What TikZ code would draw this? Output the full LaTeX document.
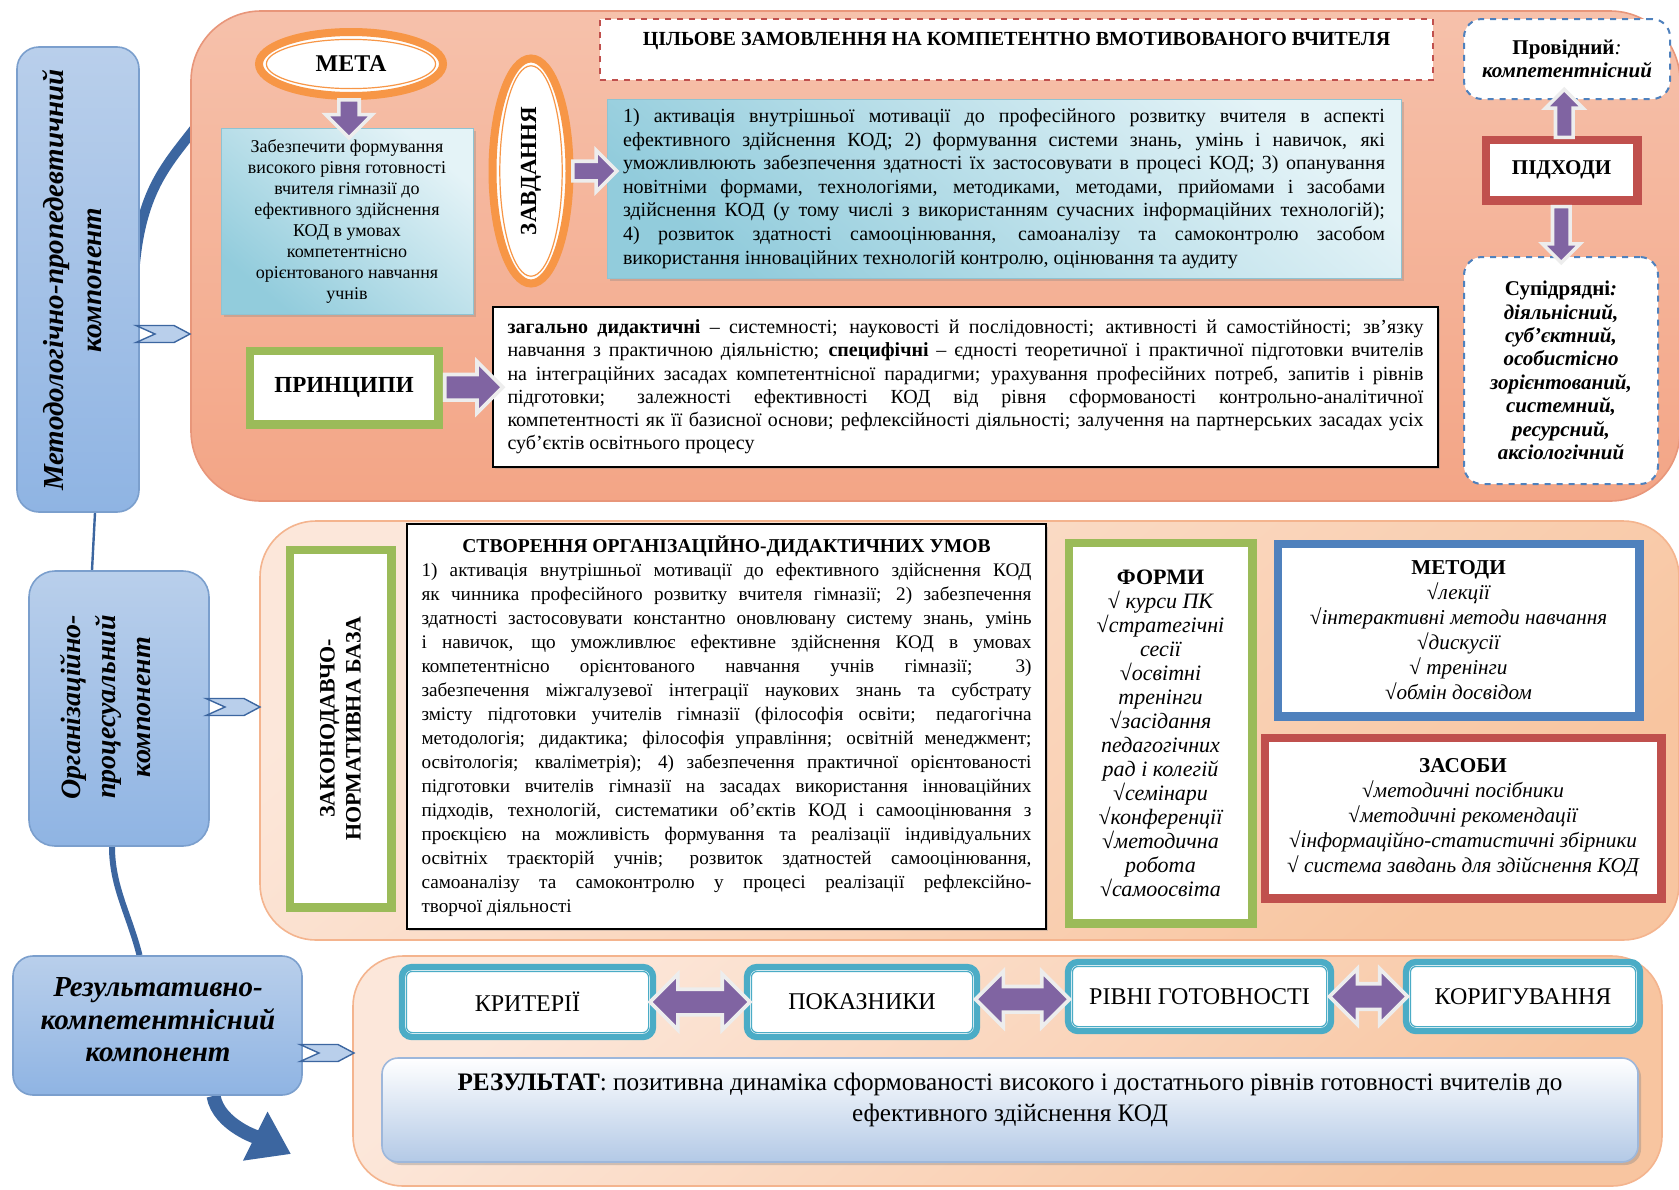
\documentclass[tikz,border=0pt]{standalone}
\usepackage{fontspec}
\setmainfont{Liberation Serif}
\usepackage{tikz}
\usetikzlibrary{positioning,calc,shapes.geometric,shapes.arrows,shadows,arrows.meta,backgrounds}

\definecolor{compbluetop}{HTML}{B9CFEB}
\definecolor{compblue}{HTML}{8FB4E3}
\definecolor{compedge}{HTML}{7B9FCD}
\definecolor{curveblue}{HTML}{3C66A0}
\definecolor{salmontop}{HTML}{F6C1AB}
\definecolor{salmon}{HTML}{F3A586}
\definecolor{salmonedge}{HTML}{E8967A}
\definecolor{peachtop}{HTML}{FCE7DA}
\definecolor{peach}{HTML}{F8C5A0}
\definecolor{peachedge}{HTML}{F4B48E}
\definecolor{teal1}{HTML}{92CCDC}
\definecolor{teal2}{HTML}{E4F3F7}
\definecolor{tealedge}{HTML}{8FC3D2}
\definecolor{arrowviolet}{HTML}{8064A2}
\definecolor{ogreen}{HTML}{9BBB59}
\definecolor{oblue}{HTML}{4F81BD}
\definecolor{ored}{HTML}{C0504D}
\definecolor{oorange}{HTML}{F79646}
\definecolor{oteal}{HTML}{4BACC6}
\definecolor{resblue}{HTML}{B3C9E6}
\definecolor{resedge}{HTML}{9DB7DB}

\tolerance=3000
\emergencystretch=8pt
\newcommand\setfs[2]{\fontsize{#1}{#2}\selectfont}
\newcommand\inframe[3][0pt]{\draw[#3, line width=0.6pt, rounded corners=#1] ([shift={(3.8pt,-3.8pt)}]#2.north west) rectangle ([shift={(-3.8pt,3.8pt)}]#2.south east);}

\begin{document}
\begin{tikzpicture}[x=0.5pt, y=-0.5pt,
  comp/.style={rectangle, rounded corners=11pt, draw=compedge, line width=0.8pt, top color=compbluetop, bottom color=compblue, inner sep=0pt},
  comptext/.style={rotate=90, align=center, font=\setfs{14.5}{19}\bfseries\itshape},
  panel/.style={rectangle, inner sep=0pt, line width=0.8pt},
  chev/.style={draw=curveblue, line width=0.7pt, fill=compbluetop, line join=miter},
  link/.style={draw=curveblue},
  varrow/.style 2 args={single arrow, fill=arrowviolet, draw=black!7, line width=1.8pt, inner sep=#1, single arrow head extend=#2},
  harrow/.style={double arrow, fill=arrowviolet, draw=black!7, line width=1.8pt, inner sep=5.5pt, double arrow head extend=7.5pt},
  dblbox/.style={rectangle, draw=#1, line width=3.5pt, fill=white, inner sep=0pt, drop shadow={opacity=0.3, shadow xshift=1.2pt, shadow yshift=-1.2pt}},
  ringoval/.style={ellipse, draw=oorange, line width=4pt, fill=white, inner sep=0pt},
  dashbox/.style={rectangle, rounded corners=9pt, draw=oblue, dashed, line width=1pt, fill=white, inner sep=0pt, align=center},
  goalbox/.style={rectangle, draw=tealedge, line width=0.5pt, top color=teal2, bottom color=teal1, shading angle=-40, inner sep=0pt, drop shadow={opacity=0.3, shadow xshift=1.5pt, shadow yshift=-1.5pt}},
  stagebox/.style={rectangle, rounded corners=5pt, draw=oteal, line width=3.2pt, fill=white, inner sep=0pt, minimum height=35pt, font=\setfs{12}{14}},
  textbox/.style={rectangle, draw=black, line width=0.8pt, fill=white, inner sep=6pt, align=justify, drop shadow={opacity=0.3, shadow xshift=1.2pt, shadow yshift=-1.2pt}}
]
\useasboundingbox (0,0) rectangle (1679,1189);

% components
\node[comp, minimum width=61pt, minimum height=232.5pt] (b1) at (78,279.5) {};
\node[comptext] (b1t) at (72,280) {Методологічно-пропедевтичний\\компонент};
\node[comp, rounded corners=13pt, minimum width=90pt, minimum height=137.5pt] (b2) at (119,708.5) {};
\node[comptext, font=\setfs{14}{17.5}\bfseries\itshape] (b2t) at (106,707) {Організаційно-\\процесуальний\\компонент};
\node[comp, rounded corners=10pt, minimum width=144.5pt, minimum height=69.5pt] (b3) at (157.5,1025.5) {};
\node[align=center, font=\setfs{14.5}{16.3}\bfseries\itshape] (b3t) at (158,1020) {Результативно-\\компетентнісний\\компонент};

% panels
\node[panel, rounded corners=35pt, draw=salmonedge, top color=salmontop, bottom color=salmon, minimum width=744.5pt, minimum height=245pt] (p1) at (935.5,256) {};
\node[panel, rounded corners=28pt, draw=peachedge, top color=peachtop, bottom color=peach, shading angle=40, minimum width=709.5pt, minimum height=209.5pt] (p2) at (969.5,730.5) {};
\node[panel, rounded corners=25pt, draw=peachedge, top color=peachtop, bottom color=peach, shading angle=40, minimum width=654.5pt, minimum height=115pt] (p3) at (1007.5,1071) {};

% first panel
\node[ringoval, minimum width=92pt, minimum height=32pt, font=\setfs{12}{14}\bfseries] (meta) at (351,64) {МЕТА};
\draw[oorange, line width=0.6pt] (meta.center) ellipse [x radius=42.3pt, y radius=12.3pt];
\node[goalbox, minimum width=126pt, minimum height=93pt, align=center, font=\setfs{9}{10.5}] (goal) at (347,221) {Забезпечити формування\\високого рівня готовності\\вчителя гімназії до\\ефективного здійснення\\КОД в умовах\\компетентнісно\\орієнтованого навчання\\учнів};
\node[ringoval, minimum width=38.5pt, minimum height=112.5pt] (zav) at (531,171) {};
\draw[oorange, line width=0.6pt] (zav.center) ellipse [x radius=15.6pt, y radius=52.6pt];
\node[rotate=90, font=\setfs{11.5}{13}\bfseries] (zavt) at (zav) {ЗАВДАННЯ};
\node[dashbox, sharp corners, draw=ored, minimum width=416.5pt, minimum height=30.5pt] (order) at (1016.5,49.5) {};
\node[anchor=north, inner sep=0pt, font=\setfs{10}{12}\bfseries] (ordert) at ([yshift=-7pt]order.north) {ЦІЛЬОВЕ ЗАМОВЛЕННЯ НА КОМПЕТЕНТНО ВМОТИВОВАНОГО ВЧИТЕЛЯ};
\node[goalbox, minimum width=397pt, minimum height=89.5pt, text width=381pt, align=justify, font=\setfs{10}{11.8}] (tasks) at (1004,188.5) {1) активація внутрішньої мотивації до професійного розвитку вчителя в аспекті\linebreak ефективного здійснення КОД; 2) формування системи знань, умінь і навичок, які\linebreak уможливлюють забезпечення здатності їх застосовувати в процесі КОД; 3) опанування\linebreak новітніми формами, технологіями, методиками, методами, прийомами і засобами\linebreak здійснення КОД (у тому числі з використанням сучасних інформаційних технологій);\linebreak 4) розвиток здатності самооцінювання, самоаналізу та самоконтролю засобом\linebreak використання інноваційних технологій контролю, оцінювання та аудиту};
\node[dashbox, minimum width=103pt, minimum height=40pt, font=\setfs{10.5}{11.3}] (lead) at (1567,59) {\textbf{Провідний}\textit{:}\\\textbf{\textit{компетентнісний}}};
\node[dblbox=ored, minimum width=76.5pt, minimum height=31pt, font=\setfs{10.5}{12}\bfseries] (appr) at (1561.5,170) {ПІДХОДИ};
\inframe{appr}{ored}
\node[dashbox, minimum width=97pt, minimum height=113.5pt, font=\setfs{10.5}{11.7}\bfseries] (sub) at (1561,370.5) {Супідрядні\textit{:}\\\textit{діяльнісний,}\\\textit{суб’єктний,}\\\textit{особистісно}\\\textit{зорієнтований,}\\\textit{системний,}\\\textit{ресурсний,}\\\textit{аксіологічний}};
\node[dblbox=ogreen, minimum width=95pt, minimum height=37.5pt, font=\setfs{11.5}{13}\bfseries] (prl) at (344,387.5) {ПРИНЦИПИ};
\inframe{prl}{ogreen}
\node[textbox, minimum width=472.5pt, minimum height=80pt, text width=458pt, font=\setfs{10}{11.6}] (prt) at (965.5,387) {\textbf{загально дидактичні} – системності; науковості й послідовності; активності й самостійності; зв’язку\linebreak навчання з практичною діяльністю; \textbf{специфічні} – єдності теоретичної і практичної підготовки вчителів\linebreak на інтеграційних засадах компетентнісної парадигми; урахування професійних потреб, запитів і рівнів\linebreak підготовки; залежності ефективності КОД від рівня сформованості контрольно-аналітичної\linebreak компетентності як її базисної основи; рефлексійності діяльності; залучення на партнерських засадах усіх\linebreak суб’єктів освітнього процесу};

\node[varrow={4.2pt}{6.5pt}, shape border rotate=270, minimum height=19pt] (a1) at ($(meta.south)!0.5!(goal.north)$) {};
\node[varrow={4pt}{5.5pt}, minimum height=22pt] (a2) at ($(zav.east)!0.5!(zav.east -| tasks.west)$) {};
\node[varrow={3.5pt}{5pt}, shape border rotate=90, minimum height=24pt] (a3) at ($(appr.north)!0.5!(lead.south)$) {};
\node[varrow={3.5pt}{5pt}, shape border rotate=270, minimum height=28pt] (a4) at ($(appr.south)!0.5!(sub.north)$) {};
\node[varrow={5.5pt}{6.5pt}, minimum height=29pt] (a5) at ($(prl.east)!0.5!(prt.west)$) {};

% second panel
\node[dblbox=ogreen, minimum width=51.5pt, minimum height=179.5pt] (base) at (340.5,728.5) {};
\inframe{base}{ogreen}
\node[rotate=90, align=center, font=\setfs{11}{13}\bfseries] (baset) at (base) {ЗАКОНОДАВЧО-\\НОРМАТИВНА БАЗА};
\node[textbox, minimum width=319.5pt, minimum height=194.5pt, text width=305pt, font=\setfs{9.6}{12}] (cond) at (726.5,726.5) {{\centering\bfseries\fontsize{9.8}{12}\selectfont СТВОРЕННЯ ОРГАНІЗАЦІЙНО-ДИДАКТИЧНИХ УМОВ\par}1) активація внутрішньої мотивації до ефективного здійснення КОД\linebreak як чинника професійного розвитку вчителя гімназії; 2) забезпечення\linebreak здатності застосовувати константно оновлювану систему знань, умінь\linebreak і навичок, що уможливлює ефективне здійснення КОД в умовах\linebreak компетентнісно орієнтованого навчання учнів гімназії; 3)\linebreak забезпечення міжгалузевої інтеграції наукових знань та субстрату\linebreak змісту підготовки учителів гімназії (філософія освіти; педагогічна\linebreak методологія; дидактика; філософія управління; освітній менеджмент;\linebreak освітологія; кваліметрія); 4) забезпечення практичної орієнтованості\linebreak підготовки вчителів гімназії на засадах використання інноваційних\linebreak підходів, технологій, систематики об’єктів КОД і самооцінювання з\linebreak проєкцією на можливість формування та реалізації індивідуальних\linebreak освітніх траєкторій учнів; розвиток здатностей самооцінювання,\linebreak самоаналізу та самоконтролю у процесі реалізації рефлексійно-\linebreak творчої діяльності};
\node[dblbox=ogreen, minimum width=92.5pt, minimum height=191pt, align=center, font=\setfs{11}{12}\itshape] (forms) at (1160.5,733) {{\upshape\bfseries ФОРМИ}\\√ курси ПК\\√стратегічні\\сесії\\√освітні\\тренінги\\√засідання\\педагогічних\\рад і колегій\\√семінари\\√конференції\\√методична\\робота\\√самоосвіта};
\inframe{forms}{ogreen}
\node[dblbox=oblue, minimum width=181.5pt, minimum height=87pt, align=center, font=\setfs{10.6}{12.5}\itshape] (meth) at (1458.5,630) {{\upshape\bfseries МЕТОДИ}\\√лекції\\√інтерактивні методи навчання\\√дискусії\\√ тренінги\\√обмін досвідом};
\inframe{meth}{oblue}
\node[dblbox=ored, minimum width=199pt, minimum height=81pt, align=center, font=\setfs{10.6}{12.5}\itshape] (means) at (1463,818) {{\upshape\bfseries ЗАСОБИ}\\√методичні посібники\\√методичні рекомендації\\√інформаційно-статистичні збірники\\√ система завдань для здійснення КОД};
\inframe{means}{ored}

% third panel
\node[stagebox, minimum width=125.5pt] (crit) at (527.5,1002) {КРИТЕРІЇ};
\inframe[3pt]{crit}{oteal}
\node[stagebox, minimum width=115pt] (ind) at (862,1002) {ПОКАЗНИКИ};
\inframe[3pt]{ind}{oteal}
\node[stagebox, minimum width=131.5pt, minimum height=34.5pt] (lev) at (1199.5,996.5) {РІВНІ ГОТОВНОСТІ};
\inframe[3pt]{lev}{oteal}
\node[stagebox, minimum width=117pt, minimum height=34.5pt] (corr) at (1523,996.5) {КОРИГУВАННЯ};
\inframe[3pt]{corr}{oteal}
\node[harrow, minimum height=50pt] (d1) at ($(crit.east)!0.5!(ind.west)$) {};
\node[harrow, minimum height=47pt] (d2) at ($(ind.east)!0.5!(lev.west)$) {};
\node[harrow, minimum height=39pt] (d3) at ($(lev.east)!0.5!(corr.west)$) {};
\node[rectangle, rounded corners=8pt, draw=resedge, line width=0.8pt, top color=white, bottom color=resblue, minimum width=628pt, minimum height=52pt, drop shadow={opacity=0.35, shadow xshift=1.5pt, shadow yshift=-1.5pt}] (res) at (1010,1110) {};
\node[align=center, font=\setfs{12.6}{15.5}] (rest) at ([yshift=5pt]res.center) {\textbf{РЕЗУЛЬТАТ}: позитивна динаміка сформованості високого і достатнього рівнів готовності вчителів до\\ефективного здійснення КОД};

% chevrons
\coordinate (ch1) at (136,325.5);
\coordinate (ch2) at (206,698.5);
\coordinate (ch3) at (300,1044.5);
\foreach \c in {ch1,ch2,ch3}
  \draw[chev] (\c) -- ++(38,0) -- ++(16,8.5) -- ++(-16,8.5) -- ++(-38,0) -- ++(19,-8.5) -- cycle;

\coordinate (p1in) at (198,124);
\coordinate (outtip) at (291,1154);
\begin{scope}[on background layer]
\fill[white] (0,0) rectangle (1679,1189);
\draw[link, line width=5pt] ([xshift=-3pt]b1.east) .. controls +(5,-90) and +(-30,40) .. (p1in);
\draw[link, line width=1.2pt] ([xshift=8.5pt]b1.south) -- ([xshift=-13.5pt]b2.north);
\draw[link, line width=3pt] ([xshift=-3.5pt]b2.south) .. controls +(0,40) and +(-10,-40) .. ([xshift=-9pt]b3.north);
\draw[link, line width=7pt, -{Triangle[length=20pt,width=26pt]}] ([xshift=28pt]b3.south) .. controls +(5,30) and +(-30,-15) .. (outtip);
\end{scope}
\end{tikzpicture}
\end{document}
